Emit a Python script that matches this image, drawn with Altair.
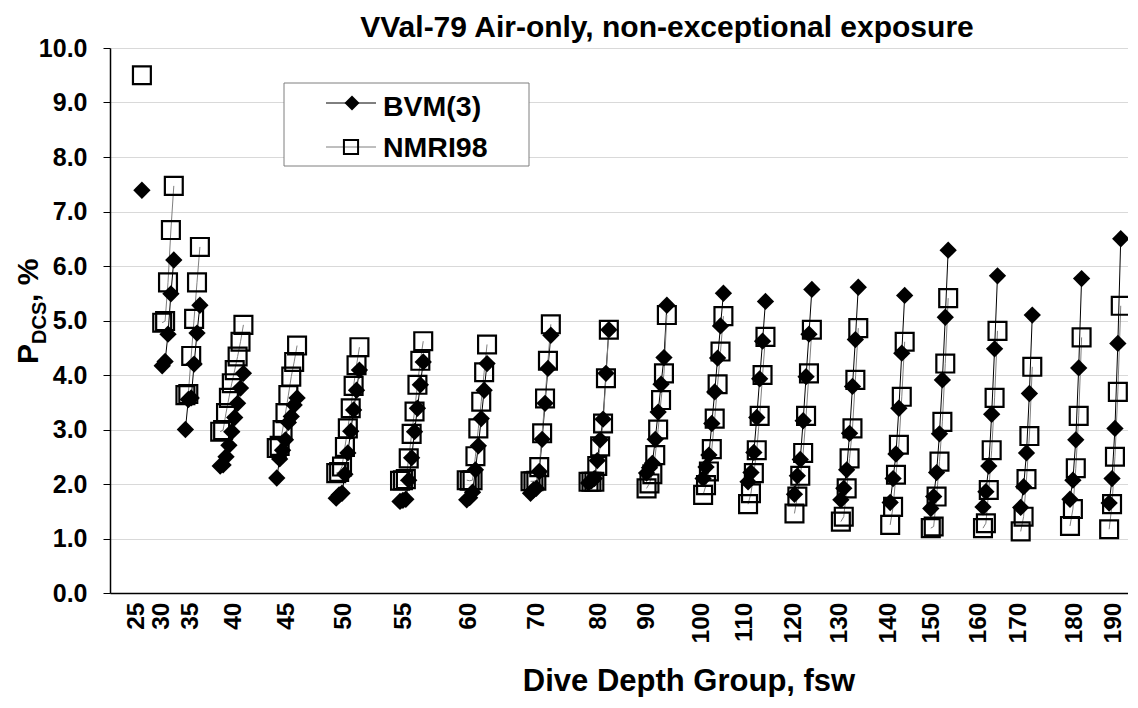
import altair as alt
import pandas as pd

# ---- data ----
depth_labels = ["25", "30", "35", "40", "45", "50", "55", "60", "70", "80", "90",
                "100", "110", "120", "130", "140", "150", "160", "170", "180", "190"]
# sequence position of the first profile in every depth group
group_start = [11, 18, 26, 38, 57.5, 78, 100, 123, 145, 165, 185,
               204.5, 220, 236, 252, 269, 283, 301, 314, 331, 344.5]
bvm = [
    [7.39],
    [4.17, 4.25, 4.75, 5.49, 6.11],
    [3.0, 3.55, 3.58, 4.2, 4.77, 5.28],
    [2.33, 2.35, 2.5, 2.71, 2.96, 3.22, 3.48, 3.76, 4.03],
    [2.11, 2.46, 2.62, 2.81, 3.13, 3.24, 3.45, 3.58],
    [1.74, 1.8, 1.83, 2.18, 2.57, 2.97, 3.36, 3.72, 4.09],
    [1.68, 1.7, 1.72, 2.07, 2.48, 2.96, 3.39, 3.82, 4.24],
    [1.71, 1.75, 1.85, 2.26, 2.7, 3.2, 3.72, 4.21],
    [1.83, 1.89, 1.92, 2.23, 2.82, 3.48, 4.12, 4.73],
    [2.02, 2.06, 2.1, 2.43, 2.81, 3.19, 4.03, 4.83],
    [2.2, 2.3, 2.38, 2.82, 3.32, 3.83, 4.32, 5.28],
    [2.1, 2.31, 2.53, 3.11, 3.69, 4.31, 4.9, 5.5],
    [2.04, 2.21, 2.58, 3.22, 3.93, 4.62, 5.35],
    [1.81, 2.15, 2.45, 3.16, 3.97, 4.75, 5.57],
    [1.71, 1.92, 2.26, 2.93, 3.79, 4.65, 5.61],
    [1.66, 2.1, 2.55, 3.39, 4.4, 5.46],
    [1.55, 1.77, 2.21, 2.92, 3.91, 5.06, 6.29],
    [1.58, 1.86, 2.33, 3.28, 4.48, 5.82],
    [1.57, 1.95, 2.57, 3.66, 5.1],
    [1.72, 2.07, 2.81, 4.13, 5.77],
    [1.65, 2.1, 3.02, 4.58, 6.5],
]
nmri = [
    [9.5],
    [4.96, 4.99, 5.7, 6.66, 7.47],
    [3.63, 3.65, 4.35, 5.03, 5.7, 6.35],
    [2.96, 2.99, 3.3, 3.58, 3.85, 4.09, 4.34, 4.61, 4.92],
    [2.66, 2.7, 2.99, 3.3, 3.63, 3.97, 4.24, 4.54],
    [2.2, 2.22, 2.32, 2.68, 3.02, 3.39, 3.8, 4.18, 4.51],
    [2.06, 2.07, 2.09, 2.47, 2.92, 3.33, 3.82, 4.26, 4.62],
    [2.07, 2.06, 2.07, 2.51, 3.02, 3.51, 4.05, 4.56],
    [2.05, 2.05, 2.06, 2.31, 2.93, 3.57, 4.26, 4.93],
    [2.04, 2.04, 2.04, 2.33, 2.69, 3.11, 3.94, 4.83],
    [1.92, 2.01, 2.18, 2.53, 3.0, 3.54, 4.03, 5.1],
    [1.8, 1.98, 2.23, 2.64, 3.2, 3.83, 4.43, 5.08],
    [1.63, 1.83, 2.2, 2.62, 3.25, 4.0, 4.7],
    [1.46, 1.77, 2.15, 2.57, 3.25, 4.03, 4.83],
    [1.31, 1.4, 1.92, 2.47, 3.02, 3.91, 4.86],
    [1.25, 1.58, 2.17, 2.72, 3.6, 4.61],
    [1.19, 1.22, 1.77, 2.41, 3.14, 4.21, 5.41],
    [1.19, 1.28, 1.89, 2.62, 3.58, 4.81],
    [1.13, 1.4, 2.09, 2.88, 4.15],
    [1.23, 1.54, 2.29, 3.25, 4.69],
    [1.17, 1.63, 2.5, 3.69, 5.27],
]
# where each depth label sits on the sequence axis
tick_pos = [9.2, 17.8, 27.6, 42.5, 60.9, 80.4, 101.1, 123.6, 147.1, 168.4, 184.9,
            203.9, 218.6, 235.5, 251.6, 268.3, 283.2, 299.3, 313.1, 332.7, 345.9]
series_names = ["BVM(3)", "NMRI98"]
y_ticks = list(range(0, 11))

rows = []
for lab, start, b_list, n_list in zip(depth_labels, group_start, bvm, nmri):
    for i, (bv, nv) in enumerate(zip(b_list, n_list)):
        rows.append({"group": lab, "seq": start + i, "model": series_names[0], "p": bv})
        rows.append({"group": lab, "seq": start + i, "model": series_names[1], "p": nv})
df = pd.DataFrame(rows)

FONT = "Liberation Sans, Arial, sans-serif"

labels_js = "[" + ",".join("'%s'" % l for l in depth_labels) + "]"
pos_js = "[" + ",".join(repr(p) for p in tick_pos) + "]"

x_enc = alt.X(
    "seq:Q",
    scale=alt.Scale(domain=[0, 351], nice=False, zero=False),
    axis=alt.Axis(
        values=tick_pos,
        labelExpr=labels_js + "[indexof(" + pos_js + ", datum.value)]",
        labelAngle=270,
        labelFont=FONT, labelFontSize=24.5, labelFontWeight="bold", labelColor="black",
        ticks=False, tickSize=0, labelPadding=9, grid=False,
        domainColor="black", domainWidth=1.5, title=None, labelOverlap=False,
    ),
)
y_enc = alt.Y(
    "p:Q",
    scale=alt.Scale(domain=[0, 10], nice=False),
    axis=alt.Axis(
        values=y_ticks, format=".1f",
        labelFont=FONT, labelFontSize=25, labelFontWeight="bold", labelColor="black",
        tickSize=7, tickColor="black", labelPadding=16,
        grid=True, gridColor="#d9d9d9", gridWidth=1.2,
        domainColor="black", domainWidth=1.5, title=None,
    ),
)

base = alt.Chart(df)
lines = base.mark_line(strokeWidth=1).encode(
    x=x_enc, y=y_enc,
    color=alt.Color("model:N", scale=alt.Scale(domain=series_names, range=["#000000", "#7f7f7f"]), legend=None),
    detail="group:N",
    order="seq:Q",
)
squares = base.transform_filter(alt.datum.model == series_names[1]).mark_point(
    shape="square", filled=False, size=320, strokeWidth=2.2, color="black", opacity=1
).encode(x=x_enc, y=y_enc)
diamonds = base.transform_filter(alt.datum.model == series_names[0]).mark_point(
    shape="diamond", filled=True, size=300, color="black", opacity=1
).encode(x=x_enc, y=y_enc)


def one():
    return pd.DataFrame({"t": [""]})


def text(t, x, y, size, angle=0, align="left", baseline="alphabetic"):
    return alt.Chart(pd.DataFrame({"t": [t]})).mark_text(
        font=FONT, fontSize=size, fontWeight="bold", color="black",
        angle=angle, align=align, baseline=baseline,
    ).encode(x=alt.value(x), y=alt.value(y), text="t:N")


# legend (manual, Excel style)
leg_box = alt.Chart(one()).mark_rect(fill="white", stroke="#7f7f7f", strokeWidth=1).encode(
    x=alt.value(174), x2=alt.value(419), y=alt.value(35), y2=alt.value(118))
leg_line1 = alt.Chart(one()).mark_rule(color="black", strokeWidth=1).encode(
    x=alt.value(216), x2=alt.value(266), y=alt.value(55))
leg_line2 = alt.Chart(one()).mark_rule(color="#7f7f7f", strokeWidth=1).encode(
    x=alt.value(216), x2=alt.value(266), y=alt.value(99))
leg_sym1 = alt.Chart(one()).mark_point(shape="diamond", filled=True, size=225, color="black", opacity=1).encode(
    x=alt.value(242), y=alt.value(55))
leg_sym2 = alt.Chart(one()).mark_point(shape="square", filled=False, size=200, strokeWidth=2, color="black", opacity=1).encode(
    x=alt.value(241), y=alt.value(99))
leg_t1 = text(series_names[0], 273, 68, 28.5)
leg_t2 = text(series_names[1], 273, 109, 28.5)

title = text("VVal-79 Air-only, non-exceptional exposure", 557, -11, 30, align="center")
xtitle = text("Dive Depth Group, fsw", 579, 643, 31, align="center")
yt_p = text("P", -72, 316, 30, angle=270)
yt_sub = text("DCS", -64, 296, 20, angle=270)
yt_rest = text(", %", -72, 254, 30, angle=270)

chart = alt.layer(
    lines, squares, diamonds,
    leg_box, leg_line1, leg_line2, leg_sym1, leg_sym2, leg_t1, leg_t2,
    title, xtitle, yt_p, yt_sub, yt_rest,
).properties(
    width=1018, height=545,
    autosize=alt.AutoSizeParams(type="none"),
    padding={"left": 102, "top": 40, "right": 0, "bottom": 104},
).configure_view(stroke=None)

chart.save("out.html", embed_options={"renderer": "svg", "actions": False})
